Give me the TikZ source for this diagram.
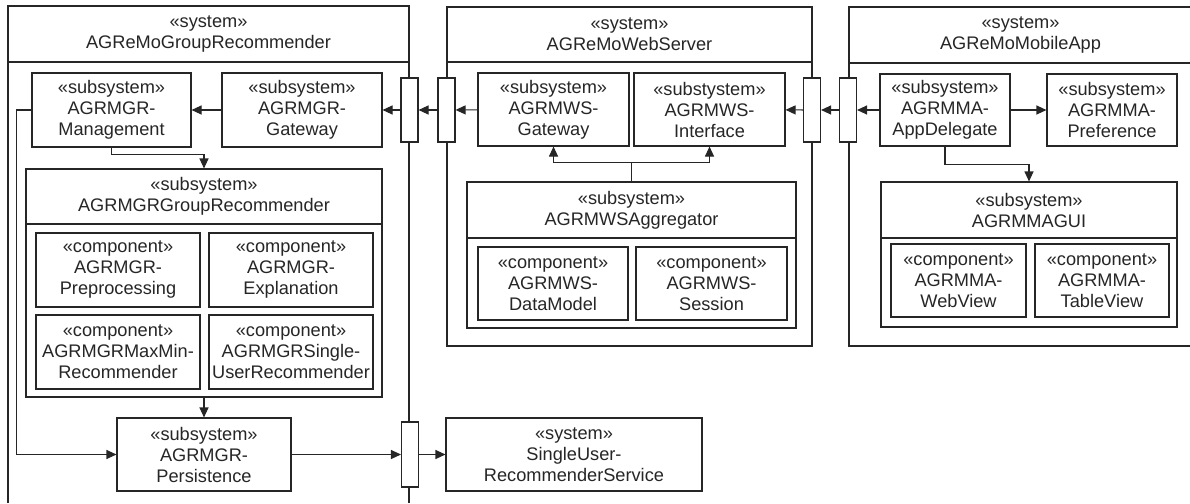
\documentclass[tikz,border=0pt]{standalone}
\usepackage{fontspec}
\setmainfont{Liberation Sans}
\usetikzlibrary{arrows.meta}
\newcommand{\umlfont}{\fontsize{18.2}{21}\selectfont}

\begin{document}
\begin{tikzpicture}[x=1pt,y=-1pt,line width=1.1pt,color=black!85,
  box/.style={draw,fill=white,align=center,inner sep=0pt,font=\umlfont},
  port/.style={draw,fill=white,minimum width=17,minimum height=64,inner sep=0pt},
  arr/.style={-{Triangle[length=10pt,width=9pt]}}]

  \useasboundingbox (0,0) rectangle (1190,503);

  % system frames (the outer two run off the page)
  \draw (8,503) |- (409,6) -- (409,503);
  \node[box,minimum width=401,minimum height=56] (grsys) at (208.5,34) {«system»\\AGReMoGroupRecommender};
  \node[draw,minimum width=365,minimum height=339] (wssys) at (629.5,176.5) {};
  \node[box,minimum width=365,minimum height=55] (wshead) at (629.5,34.5) {«system»\\AGReMoWebServer};
  \draw (1192,7) -| (849,346) -- (1192,346);
  \node[box,minimum width=343,minimum height=56] (masys) at (1020.5,35) {«system»\\AGReMoMobileApp};

  % group recommender
  \node[box,minimum width=159,minimum height=74] (mgmt) at (111.5,110) {«subsystem»\\AGRMGR-\\Management};
  \node[box,minimum width=160,minimum height=74] (grgw) at (302,110) {«subsystem»\\AGRMGR-\\Gateway};
  \node[box,minimum width=356,minimum height=228] (grp) at (204,283) {};
  \node[box,minimum width=356,minimum height=55] (grphead) at (204,196.5) {«subsystem»\\AGRMGRGroupRecommender};
  \foreach \name/\x/\y/\txt in {pre/118/270/{AGRMGR-\\Preprocessing}, expl/291/270/{AGRMGR-\\Explanation},
      maxmin/118/352/{AGRMGRMaxMin-\\Recommender}, singleuser/291/352/{AGRMGRSingle-\\UserRecommender}} {
    \node[box,minimum width=164,minimum height=74] (\name) at (\x,\y) {«component»\\\txt};
  }
  \node[box,minimum width=174,minimum height=73] (persist) at (204,454.5) {«subsystem»\\AGRMGR-\\Persistence};

  % web server
  \node[box,minimum width=151,minimum height=73] (wsgw) at (553.5,109.5) {«subsystem»\\AGRMWS-\\Gateway};
  \node[box,minimum width=151,minimum height=73] (wsif) at (709.5,109.5) {«substystem»\\AGRMWS-\\Interface};
  \node[box,minimum width=329,minimum height=146] (agg) at (631.5,255) {};
  \node[box,minimum width=329,minimum height=56] (agghead) at (631.5,210) {«subsystem»\\AGRMWSAggregator};
  \node[box,minimum width=150,minimum height=73] (datamodel) at (553,283.5) {«component»\\AGRMWS-\\DataModel};
  \node[box,minimum width=151,minimum height=73] (session) at (711.5,283.5) {«component»\\AGRMWS-\\Session};

  % mobile app
  \node[box,minimum width=130,minimum height=72] (appdel) at (945,110) {«subsystem»\\AGRMMA-\\AppDelegate};
  \node[box,minimum width=130,minimum height=72] (pref) at (1112,110) {«subsystem»\\AGRMMA-\\Preference};
  \node[box,minimum width=296,minimum height=145] (gui) at (1029,254.5) {};
  \node[box,minimum width=296,minimum height=56] (guihead) at (1029,210) {«subsystem»\\AGRMMAGUI};
  \node[box,minimum width=135,minimum height=73] (webview) at (958.5,280.5) {«component»\\AGRMMA-\\WebView};
  \node[box,minimum width=134,minimum height=73] (tableview) at (1102,280.5) {«component»\\AGRMMA-\\TableView};

  % external service
  \node[box,minimum width=256,minimum height=73] (service) at (574,454.5) {«system»\\SingleUser-\\RecommenderService};

  % ports on the frames
  \node[port] (pgr) at (409.5,110) {};
  \node[port] (pwsl) at (446.5,110) {};
  \node[port] (pwsr) at (812,110) {};
  \node[port] (pma) at (848,110) {};
  \node[port,minimum height=65] (pbot) at (410,454.5) {};

  % top row, right to left
  \draw[arr] (appdel) -- (pma);
  \draw[arr] (pma) -- (pwsr);
  \draw[arr] (pwsr) -- (wsif);
  \draw[arr] (wsgw) -- (pwsl);
  \draw[arr] (pwsl) -- (pgr);
  \draw[arr] (pgr) -- (grgw);
  \draw[arr] (grgw) -- (mgmt);
  \draw[arr] (appdel) -- (pref);

  \draw[arr] (appdel.south) -- ++(0,18) -| (gui.north);
  \draw[arr] (agg.north) -- ++(0,-19) -| (wsgw.south);
  \draw[arr] (agg.north) -- ++(0,-19) -| (wsif.south);

  \draw[arr] (mgmt.south) -- ++(0,7) -| (grp.north);
  \draw[arr] (grp.south) -- (persist.north);
  \draw[arr] (mgmt.west) -- ++(-15,0) |- (persist.west);
  \draw[arr] (persist) -- (pbot);
  \draw[arr] (pbot) -- (service);

\end{tikzpicture}
\end{document}
